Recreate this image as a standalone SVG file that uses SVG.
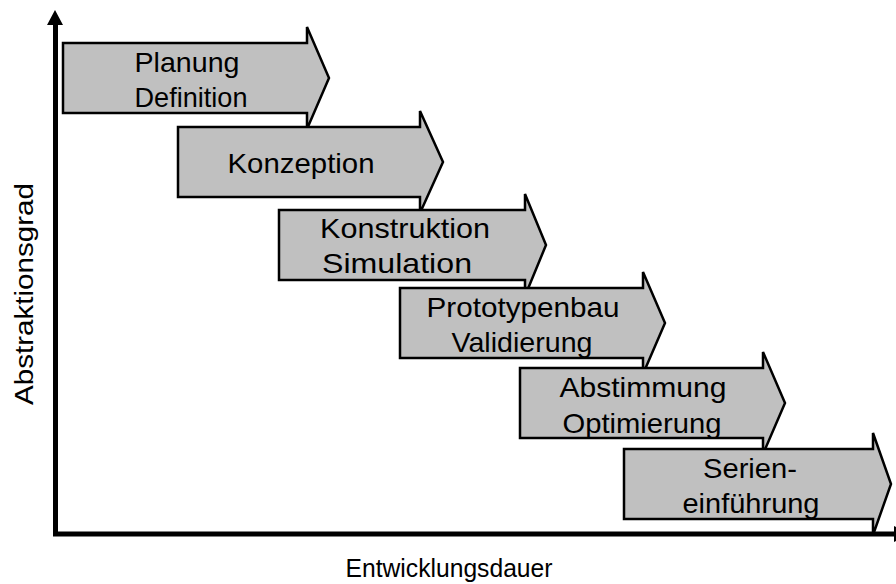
<svg xmlns="http://www.w3.org/2000/svg" width="896" height="584" viewBox="0 0 896 584">
  <style>
    .phase { fill: #c0c0c0; stroke: #000; stroke-width: 2.5; stroke-linejoin: miter; }
    .lbl { font-family: "Liberation Sans", Arial, Helvetica, sans-serif; font-size: 28px; fill: #000; text-anchor: middle; }
    .axis { stroke: #000; stroke-width: 5; fill: none; }
    .axislbl { font-family: "Liberation Sans", Arial, Helvetica, sans-serif; font-size: 26px; fill: #000; text-anchor: middle; }
  </style>
  <rect width="896" height="584" fill="#fff"/>

  <g id="phase-planung">
    <path class="phase" d="M63,43 H307 V27 L329,78 L307,129 V113 H63 Z"/>
    <text class="lbl" x="187" y="72" textLength="105" lengthAdjust="spacingAndGlyphs">Planung</text>
    <text class="lbl" x="191" y="107" textLength="113" lengthAdjust="spacingAndGlyphs">Definition</text>
  </g>

  <g id="phase-konzeption">
    <path class="phase" d="M178,127 H420 V111 L443,162 L420,213 V197 H178 Z"/>
    <text class="lbl" x="301" y="173" textLength="147" lengthAdjust="spacingAndGlyphs">Konzeption</text>
  </g>

  <g id="phase-konstruktion">
    <path class="phase" d="M279,210 H525 V194 L546,245 L525,296 V280 H279 Z"/>
    <text class="lbl" x="405" y="238" textLength="170" lengthAdjust="spacingAndGlyphs">Konstruktion</text>
    <text class="lbl" x="397" y="273" textLength="150" lengthAdjust="spacingAndGlyphs">Simulation</text>
  </g>

  <g id="phase-prototypenbau">
    <path class="phase" d="M400,288 H643 V272 L665,323 L643,374 V358 H400 Z"/>
    <text class="lbl" x="523" y="317" textLength="193" lengthAdjust="spacingAndGlyphs">Prototypenbau</text>
    <text class="lbl" x="522" y="352" textLength="141" lengthAdjust="spacingAndGlyphs">Validierung</text>
  </g>

  <g id="phase-abstimmung">
    <path class="phase" d="M520,368 H763 V352 L785,403 L763,454 V438 H520 Z"/>
    <text class="lbl" x="643" y="397" textLength="167" lengthAdjust="spacingAndGlyphs">Abstimmung</text>
    <text class="lbl" x="642" y="433" textLength="159" lengthAdjust="spacingAndGlyphs">Optimierung</text>
  </g>

  <g id="phase-serie">
    <path class="phase" d="M624,449 H873 V433 L891,484 L873,535 V519 H624 Z"/>
    <text class="lbl" x="750" y="478" textLength="94" lengthAdjust="spacingAndGlyphs">Serien-</text>
    <text class="lbl" x="751" y="513" textLength="137" lengthAdjust="spacingAndGlyphs">einführung</text>
  </g>

  <g id="axes">
    <path class="axis" d="M55.5,24 V534 H896"/>
    <polygon points="55,10 47,25 63,25" fill="#000"/>
    <polygon points="894,526 910,534 894,542" fill="#000"/>
    <text class="axislbl" x="449" y="577" textLength="207" lengthAdjust="spacingAndGlyphs">Entwicklungsdauer</text>
    <text class="axislbl" transform="translate(33,294) rotate(-90)" x="0" y="0" font-size="28" textLength="222" lengthAdjust="spacingAndGlyphs">Abstraktionsgrad</text>
  </g>
</svg>
